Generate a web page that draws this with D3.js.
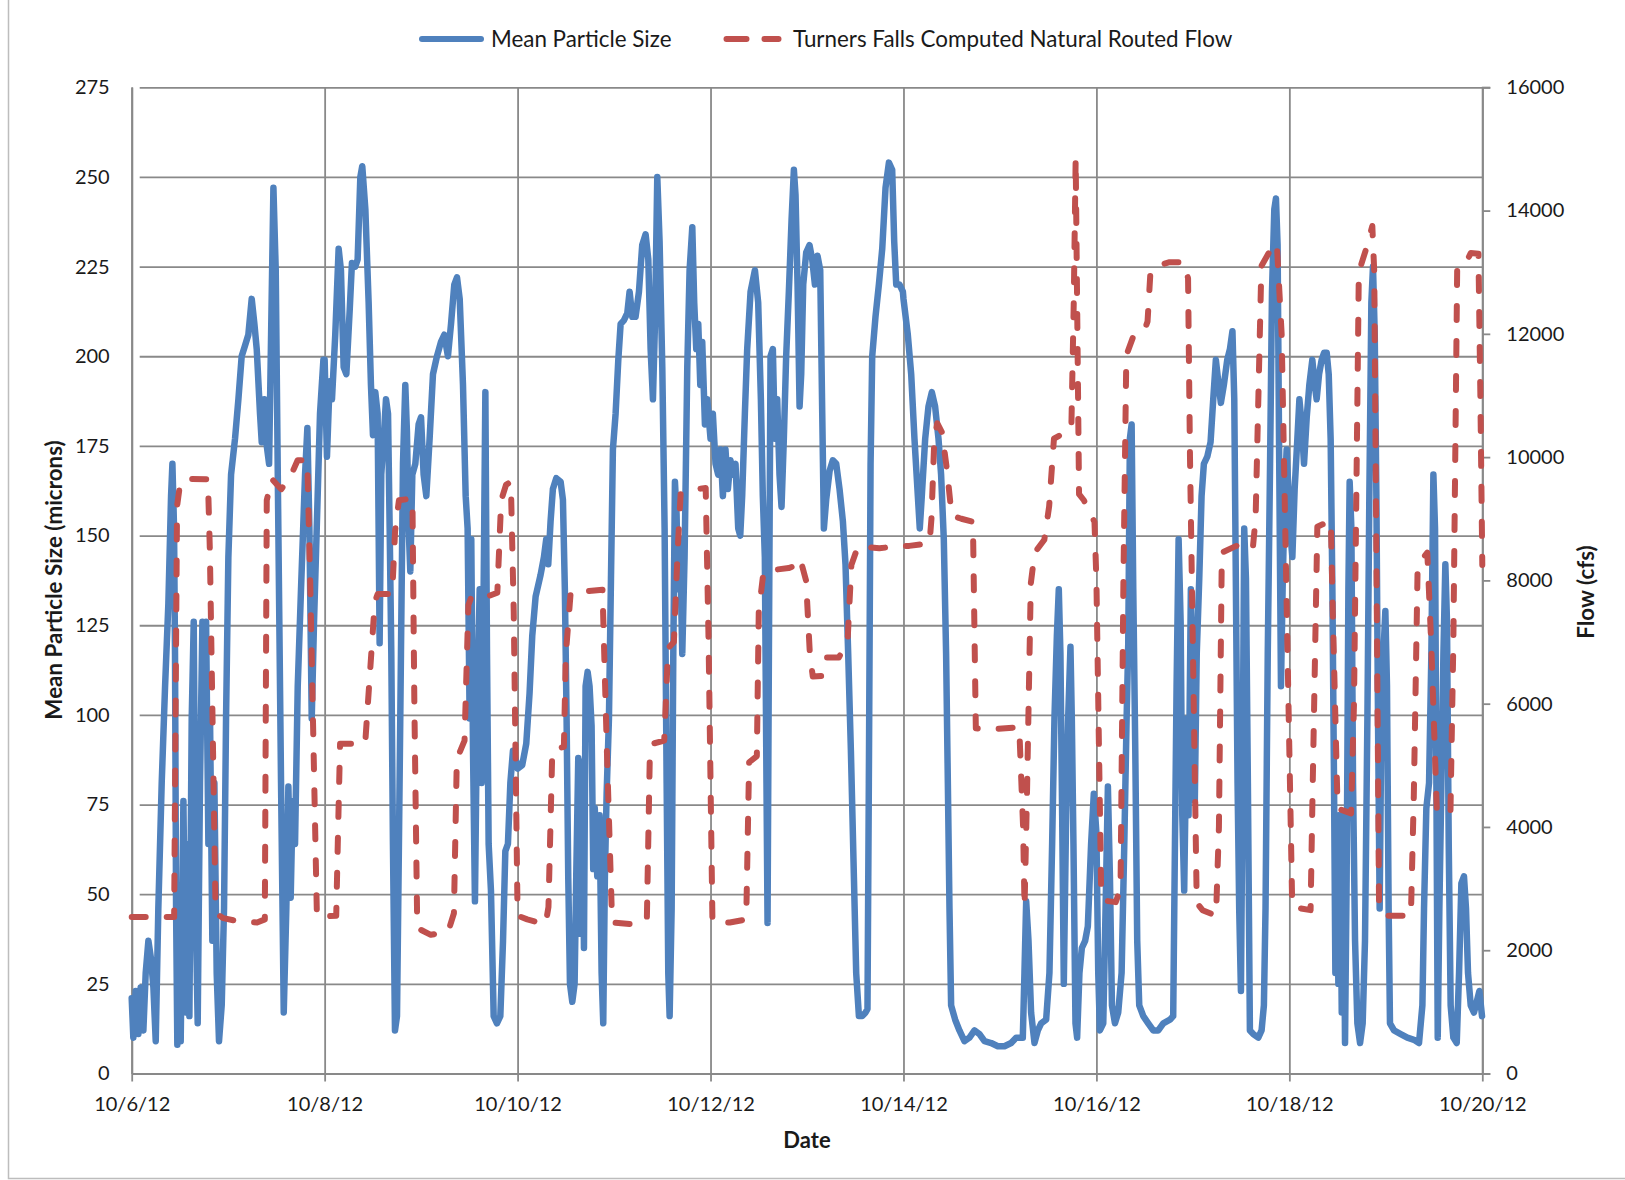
<!DOCTYPE html>
<html>
<head>
<meta charset="utf-8">
<script src="https://cdn.jsdelivr.net/npm/d3@7"></script>
<style>
  html, body { margin: 0; padding: 0; background: #ffffff; }
  svg { display: block; }
  text { font-family: Lato, "Open Sans", sans-serif; fill: #1a1a1a; }
</style>
</head>
<body>
<svg id="chart" width="1625" height="1180"></svg>
<script>
// ---- Data (day offsets from 10/6/12 00:00) ----
const sizeOct06_07 = [[0.000,21],[0.017,10],[0.041,23],[0.069,11],[0.093,24],[0.121,12],[0.145,28],[0.173,37],[0.200,32],[0.225,24],[0.249,9],[0.276,46],[0.311,81],[0.346,108],[0.380,131],[0.408,161],[0.422,170],[0.439,152],[0.449,117],[0.460,46],[0.473,8],[0.490,46],[0.508,9],[0.536,76],[0.560,17],[0.580,64],[0.598,16],[0.622,99],[0.643,126],[0.663,46],[0.684,14],[0.708,81],[0.733,126],[0.753,99],[0.771,126],[0.795,64],[0.812,99],[0.836,37],[0.857,81],[0.881,28],[0.905,9],[0.933,19],[0.957,46],[0.978,99],[1.002,144],[1.030,167],[1.071,177],[1.106,188],[1.140,200],[1.175,203],[1.209,206],[1.244,216],[1.272,209],[1.296,202],[1.330,184],[1.348,176],[1.375,188],[1.400,175],[1.424,170],[1.445,206],[1.469,247],[1.493,224],[1.520,152],[1.548,81],[1.576,17],[1.603,46],[1.624,80],[1.648,49],[1.669,76],[1.693,64],[1.721,108],[1.755,135],[1.797,167],[1.821,180],[1.842,152],[1.866,99],[1.890,126],[1.918,152],[1.952,184],[1.987,199]];
const sizeOct08_09 = [[2.000,199],[2.024,172],[2.052,193],[2.076,188],[2.110,206],[2.145,230],[2.169,224],[2.197,197],[2.225,195],[2.260,213],[2.283,226],[2.318,225],[2.342,227],[2.370,250],[2.390,253],[2.422,241],[2.456,215],[2.480,192],[2.501,178],[2.525,190],[2.549,184],[2.570,120],[2.587,167],[2.612,177],[2.636,188],[2.657,184],[2.674,152],[2.691,117],[2.708,64],[2.729,12],[2.750,16],[2.770,64],[2.791,117],[2.812,170],[2.836,192],[2.853,179],[2.871,152],[2.888,140],[2.909,167],[2.940,170],[2.974,181],[2.999,183],[3.026,167],[3.054,161],[3.088,177],[3.123,195],[3.164,200],[3.206,204],[3.240,206],[3.278,200],[3.310,209],[3.344,220],[3.372,222],[3.400,216],[3.434,192],[3.462,161],[3.482,152],[3.503,99],[3.520,149],[3.538,90],[3.558,48],[3.579,99],[3.607,135],[3.627,81],[3.648,135],[3.666,190],[3.683,117],[3.700,64],[3.724,51],[3.752,16],[3.786,14],[3.821,16],[3.849,37],[3.873,62],[3.900,64],[3.925,81],[3.952,90],[3.987,87]];
const sizeOct10_11 = [[4.000,85],[4.048,86],[4.090,92],[4.124,106],[4.152,122],[4.187,133],[4.238,139],[4.273,144],[4.297,149],[4.318,142],[4.342,154],[4.366,163],[4.401,166],[4.446,165],[4.470,160],[4.490,135],[4.508,99],[4.525,55],[4.543,25],[4.567,20],[4.591,25],[4.608,55],[4.629,88],[4.646,39],[4.670,87],[4.688,35],[4.705,108],[4.726,112],[4.746,108],[4.767,97],[4.784,57],[4.800,74],[4.826,55],[4.850,72],[4.871,28],[4.888,14],[4.905,55],[4.923,78],[4.947,99],[4.968,138],[4.988,174],[5.016,184],[5.044,199],[5.068,209],[5.102,210],[5.137,212],[5.161,218],[5.189,211],[5.223,211],[5.258,218],[5.292,231],[5.327,234],[5.355,227],[5.379,202],[5.403,188],[5.424,209],[5.448,250],[5.472,232],[5.500,197],[5.524,152],[5.545,81],[5.562,28],[5.576,16],[5.597,46],[5.614,117],[5.631,165],[5.648,156],[5.662,135],[5.683,149],[5.707,117],[5.731,144],[5.759,197],[5.783,224],[5.811,236],[5.831,215],[5.852,202],[5.873,209],[5.894,192],[5.914,204],[5.942,181],[5.966,188]];
const sizeOct12_13 = [[6.000,177],[6.024,184],[6.052,170],[6.079,167],[6.104,174],[6.128,161],[6.155,174],[6.180,163],[6.207,171],[6.232,167],[6.259,170],[6.287,152],[6.308,150],[6.328,161],[6.356,184],[6.380,202],[6.415,218],[6.460,224],[6.494,215],[6.522,188],[6.542,161],[6.563,144],[6.580,81],[6.591,42],[6.605,117],[6.622,200],[6.646,202],[6.667,177],[6.691,188],[6.715,167],[6.736,158],[6.760,177],[6.784,200],[6.812,218],[6.840,238],[6.864,252],[6.881,245],[6.902,220],[6.923,186],[6.940,195],[6.961,220],[6.992,229],[7.026,231],[7.054,227],[7.082,220],[7.109,228],[7.137,224],[7.158,184],[7.175,152],[7.199,160],[7.234,168],[7.268,171],[7.303,170],[7.337,163],[7.372,154],[7.399,142],[7.427,117],[7.455,90],[7.486,55],[7.510,28],[7.538,16],[7.572,16],[7.607,17],[7.627,18],[7.641,81],[7.659,170],[7.676,200],[7.710,211],[7.745,220],[7.780,230],[7.814,247],[7.849,254],[7.883,252],[7.904,232],[7.925,220],[7.959,220],[7.994,218]];
const sizeOct14_15 = [[8.000,216],[8.045,206],[8.080,195],[8.114,177],[8.149,161],[8.169,152],[8.190,161],[8.225,177],[8.259,186],[8.294,190],[8.328,186],[8.363,177],[8.390,167],[8.418,149],[8.442,117],[8.460,81],[8.477,46],[8.494,19],[8.536,15],[8.580,12],[8.632,9],[8.684,10],[8.736,12],[8.788,11],[8.840,9],[8.909,8.5],[8.978,7.6],[9.047,7.6],[9.116,8.5],[9.168,10],[9.237,10],[9.254,28],[9.272,48],[9.296,37],[9.323,17],[9.358,8.5],[9.393,12],[9.427,14],[9.479,15],[9.513,28],[9.541,64],[9.565,99],[9.590,122],[9.610,135],[9.627,117],[9.645,72],[9.662,25],[9.686,72],[9.707,99],[9.731,119],[9.745,99],[9.762,64],[9.783,14],[9.800,10],[9.824,28],[9.849,35],[9.883,37],[9.911,41],[9.945,64],[9.973,78]];
const sizeOct16_17 = [[10.000,67],[10.019,28],[10.036,12],[10.071,14],[10.095,46],[10.119,80],[10.140,55],[10.161,19],[10.192,14],[10.226,17],[10.261,28],[10.289,64],[10.313,99],[10.330,120],[10.347,177],[10.365,181],[10.382,135],[10.403,90],[10.423,37],[10.444,19],[10.486,16],[10.537,14],[10.589,12],[10.641,12],[10.693,14],[10.762,15],[10.796,16],[10.814,64],[10.831,108],[10.852,149],[10.873,126],[10.890,72],[10.910,51],[10.935,99],[10.955,72],[10.979,135],[11.000,108],[11.020,76],[11.040,117],[11.066,138],[11.090,161],[11.114,170],[11.149,172],[11.183,176],[11.211,188],[11.238,199],[11.263,193],[11.290,187],[11.321,192],[11.356,199],[11.384,202],[11.410,207],[11.429,188],[11.446,135],[11.463,81],[11.480,46],[11.498,23],[11.515,81],[11.532,152],[11.550,138],[11.570,81],[11.591,12],[11.626,11],[11.678,10],[11.712,12],[11.736,19],[11.753,46],[11.776,117],[11.800,170],[11.820,218],[11.844,241],[11.861,244],[11.878,231],[11.895,170],[11.913,108],[11.930,135],[11.951,161],[11.972,174]];
const sizeOct18_19 = [[12.007,152],[12.031,144],[12.055,163],[12.083,177],[12.104,188],[12.128,181],[12.152,170],[12.180,183],[12.207,192],[12.238,199],[12.263,192],[12.283,188],[12.308,195],[12.335,199],[12.360,201],[12.387,201],[12.408,195],[12.428,177],[12.446,135],[12.463,81],[12.477,28],[12.490,72],[12.508,25],[12.525,72],[12.543,17],[12.560,72],[12.577,8.5],[12.594,55],[12.612,135],[12.625,165],[12.643,152],[12.660,81],[12.681,37],[12.705,14],[12.733,8.5],[12.760,14],[12.784,37],[12.809,99],[12.829,161],[12.850,215],[12.867,225],[12.885,206],[12.902,161],[12.919,99],[12.936,46],[12.954,99],[12.975,117],[12.995,129],[13.012,108],[13.029,46],[13.043,14],[13.085,12],[13.154,11],[13.223,10],[13.292,9.4],[13.344,8.5],[13.379,19],[13.396,46],[13.420,74],[13.448,81],[13.472,117],[13.493,167],[13.510,152],[13.524,81],[13.538,10],[13.555,46],[13.576,81],[13.597,117],[13.617,142],[13.634,126],[13.652,64],[13.672,19],[13.700,10],[13.735,8.5],[13.759,28],[13.783,53],[13.810,55],[13.831,46],[13.852,28],[13.880,19],[13.914,17],[13.942,20],[13.970,23],[13.997,16]];

const flowOct06_07 = [[0,2540],[0.44,2540],[0.47,9200],[0.50,9550],[0.55,9650],[0.79,9640],[0.81,8500],[0.87,2600],[0.95,2520],[1.10,2470],[1.30,2450],[1.38,2500],[1.40,9300],[1.45,9650],[1.55,9480],[1.65,9700],[1.72,9950],[1.82,9950],[1.85,8000],[1.92,2540]];
const flowOct08_09 = [[2.12,2560],[2.14,4000],[2.16,5350],[2.42,5350],[2.47,6500],[2.52,7650],[2.55,7780],[2.70,7780],[2.73,8800],[2.77,9300],[2.91,9330],[2.93,6000],[2.96,2360],[3.10,2250],[3.28,2300],[3.34,2600],[3.37,5100],[3.45,5400],[3.49,7600],[3.52,7730],[3.67,7730],[3.79,7800],[3.83,9300],[3.88,9550],[3.93,9600],[3.96,7500],[4.00,2560]];
const flowOct10_11 = [[4.10,2500],[4.29,2420],[4.32,2700],[4.36,5250],[4.48,5300],[4.50,6800],[4.55,7800],[4.88,7850],[4.93,5000],[4.98,2450],[5.20,2420],[5.34,2500],[5.37,5100],[5.40,5350],[5.52,5400],[5.56,6900],[5.62,7000],[5.66,8500],[5.69,9400],[5.80,9470],[5.95,9500],[5.98,7000],[6.02,2460]];
const flowOct12_13 = [[6.20,2450],[6.37,2500],[6.40,5050],[6.48,5150],[6.50,7500],[6.55,8150],[6.81,8200],[6.90,8250],[6.93,8350],[6.99,8000],[7.03,6800],[7.06,6440],[7.15,6450],[7.19,6750],[7.33,6750],[7.42,7000],[7.46,8250],[7.53,8560],[7.75,8520],[7.95,8560]];
const flowOct14_15 = [[8.06,8560],[8.27,8600],[8.29,9000],[8.32,10300],[8.35,10550],[8.40,10400],[8.45,9800],[8.50,9050],[8.60,9000],[8.72,8950],[8.75,5600],[8.90,5580],[9.20,5620],[9.24,4000],[9.255,2700],[9.28,4500],[9.32,7950],[9.36,8450],[9.46,8660],[9.51,9200],[9.56,10300],[9.65,10380],[9.74,10450],[9.765,12500],[9.785,14850],[9.80,12500],[9.82,9400],[9.87,9300],[9.93,9100],[9.98,8950]];
const flowOct16_17 = [[10.00,8000],[10.05,2870],[10.10,2800],[10.20,2780],[10.25,3000],[10.28,8000],[10.31,11650],[10.38,11950],[10.49,12020],[10.53,12200],[10.56,13000],[10.62,13100],[10.75,13160],[10.91,13160],[10.95,12900],[10.97,10000],[11.04,2770],[11.10,2650],[11.24,2560],[11.27,4000],[11.30,8450],[11.45,8560],[11.62,8500],[11.65,9000],[11.71,13100],[11.80,13350],[11.87,13470],[11.92,12000]];
const flowOct18_19 = [[12.03,2700],[12.22,2650],[12.24,4500],[12.29,8870],[12.43,8970],[12.45,7500],[12.50,4300],[12.64,4220],[12.67,6000],[12.72,13000],[12.80,13400],[12.86,13750],[12.88,13000],[12.93,2670],[13.00,2560],[13.26,2560],[13.29,4500],[13.33,8250],[13.43,8450],[13.47,7000],[13.53,4220],[13.67,4250],[13.70,7000],[13.74,13100],[13.83,13150],[13.88,13310],[13.96,13300],[13.98,11000],[14.00,8250]];

const dateTickLabels = ["10/6/12","10/8/12","10/10/12","10/12/12","10/14/12","10/16/12","10/18/12","10/20/12"];
const dateTickDays = [0,2,4,6,8,10,12,14];
const sizeTicks = [0,25,50,75,100,125,150,175,200,225,250,275];
const flowTicks = [0,2000,4000,6000,8000,10000,12000,14000,16000];
const seriesNames = ["Mean Particle Size","Turners Falls Computed Natural Routed Flow"];

// ---- Layout ----
const svg = d3.select("#chart");
const L = 131.7, R = 1482.3, T = 87.3, B = 1073.5;
const t0 = Date.UTC(2012, 9, 6);
const toDate = d => new Date(t0 + d * 864e5);

const x = d3.scaleUtc().domain([toDate(0), toDate(14)]).range([L, R]);
const yL = d3.scaleLinear().domain([0, 275]).range([B, T]);
const yR = d3.scaleLinear().domain([0, 16000]).range([B, T]);

const gridColor = "#898989";
const blue = "#4f81bd", red = "#c0504d";

// outer border (left and bottom edges visible)
svg.append("path").attr("d", "M8.5,0 V1178.5 H1625")
  .attr("fill", "none").attr("stroke", "#bdbdbd").attr("stroke-width", 1.5);

// horizontal grid + left ticks
const gLeft = svg.append("g").attr("transform", `translate(${L},0)`)
  .call(d3.axisLeft(yL).tickValues(sizeTicks).tickSizeInner(-(R - L)).tickSizeOuter(0).tickFormat(""));
gLeft.selectAll(".tick line").attr("stroke", gridColor).attr("stroke-width", 1.8).attr("x1", 8);
gLeft.select(".domain").attr("stroke", gridColor).attr("stroke-width", 2);
const gLeftLab = svg.append("g").attr("transform", `translate(${L},0)`)
  .call(d3.axisLeft(yL).tickValues(sizeTicks).tickSize(0).tickPadding(22).tickFormat(d3.format("d")));
gLeftLab.select(".domain").remove();
gLeftLab.selectAll("text").style("font-family", "Lato").style("font-size", "20px").attr("fill", "#1a1a1a");

// vertical grid + bottom ticks
const gBot = svg.append("g").attr("transform", `translate(0,${B})`)
  .call(d3.axisBottom(x).tickValues(dateTickDays.map(toDate)).tickSizeInner(-(B - T)).tickSizeOuter(0).tickFormat(""));
gBot.selectAll(".tick line").attr("stroke", gridColor).attr("stroke-width", 1.8).attr("y1", 8);
gBot.select(".domain").attr("stroke", gridColor).attr("stroke-width", 2);
const gBotLab = svg.append("g").attr("transform", `translate(0,${B})`)
  .call(d3.axisBottom(x).tickValues(dateTickDays.map(toDate)).tickSize(0).tickPadding(23)
    .tickFormat((d, i) => dateTickLabels[i]));
gBotLab.select(".domain").remove();
gBotLab.selectAll("text").style("font-family", "Lato").style("font-size", "20px").attr("fill", "#1a1a1a");

// right axis
const gRight = svg.append("g").attr("transform", `translate(${R},0)`)
  .call(d3.axisRight(yR).tickValues(flowTicks).tickSize(8).tickPadding(16).tickFormat(d3.format("d")));
gRight.select(".domain").attr("stroke", gridColor).attr("stroke-width", 2);
gRight.selectAll(".tick line").attr("stroke", gridColor).attr("stroke-width", 1.8);
gRight.selectAll("text").style("font-family", "Lato").style("font-size", "20px").attr("fill", "#1a1a1a");

// series
const sizeData = [].concat(sizeOct06_07, sizeOct08_09, sizeOct10_11, sizeOct12_13, sizeOct14_15, sizeOct16_17, sizeOct18_19);
const flowData = [].concat(flowOct06_07, flowOct08_09, flowOct10_11, flowOct12_13, flowOct14_15, flowOct16_17, flowOct18_19);

const sizeLine = d3.line().x(d => x(toDate(d[0]))).y(d => yL(d[1]));
const flowLine = d3.line().x(d => x(toDate(d[0]))).y(d => yR(d[1]));

svg.append("path").datum(sizeData).attr("d", sizeLine)
  .attr("fill", "none").attr("stroke", blue).attr("stroke-width", 6.5)
  .attr("stroke-linejoin", "round").attr("stroke-linecap", "round");
svg.append("path").datum(flowData).attr("d", flowLine)
  .attr("fill", "none").attr("stroke", red).attr("stroke-width", 6)
  .attr("stroke-dasharray", "14,21").attr("stroke-linecap", "round").attr("stroke-linejoin", "round");

// axis titles
svg.append("text").attr("x", 807).attr("y", 1148).attr("text-anchor", "middle")
  .style("font-size", "22px").style("font-weight", "bold").text("Date");
svg.append("text").attr("transform", "translate(62,580) rotate(-90)").attr("text-anchor", "middle")
  .style("font-size", "22.4px").style("font-weight", "bold").text("Mean Particle Size (microns)");
svg.append("text").attr("transform", "translate(1594,592) rotate(-90)").attr("text-anchor", "middle")
  .style("font-size", "22.4px").style("font-weight", "bold").text("Flow (cfs)");

// legend
const lg = svg.append("g");
lg.append("line").attr("x1", 422).attr("x2", 481).attr("y1", 39).attr("y2", 39)
  .attr("stroke", blue).attr("stroke-width", 6).attr("stroke-linecap", "round");
lg.append("text").attr("x", 491).attr("y", 47).style("font-size", "22.4px").text(seriesNames[0]);
lg.append("line").attr("x1", 726.5).attr("x2", 778.5).attr("y1", 39).attr("y2", 39)
  .attr("stroke", red).attr("stroke-width", 6).attr("stroke-dasharray", "20,18").attr("stroke-linecap", "round");
lg.append("text").attr("x", 793).attr("y", 47).style("font-size", "22.4px").text(seriesNames[1]);
</script>
</body>
</html>
